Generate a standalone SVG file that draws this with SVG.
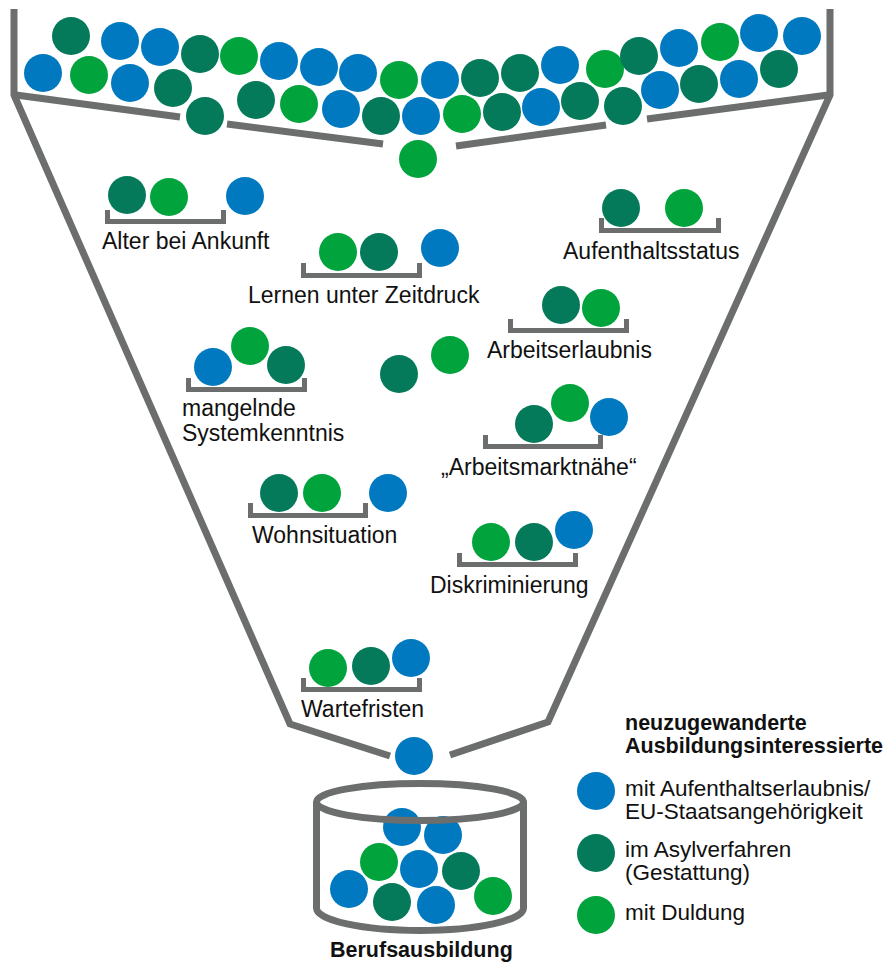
<svg xmlns="http://www.w3.org/2000/svg" width="886" height="968" viewBox="0 0 886 968">
<style>
.b{fill:#0079C1}.d{fill:#047A5A}.g{fill:#00A33C}
.ln{fill:none;stroke:#6B6E6D;stroke-width:7;stroke-linejoin:miter}
.br{fill:none;stroke:#6B6E6D;stroke-width:5}
.t{font-family:"Liberation Sans",Arial,sans-serif;font-size:23px;fill:#111}
.tl{font-family:"Liberation Sans",Arial,sans-serif;font-size:22.5px;fill:#111}
.tb{font-family:"Liberation Sans",Arial,sans-serif;font-size:21.5px;font-weight:bold;fill:#111}
</style>
<rect width="886" height="968" fill="#fff"/>
<g id="funnel">
<path class="ln" d="M14,9 V95 L290,724 L390,756"/>
<path class="ln" d="M830,9 V95 L548,722 L450,755"/>
<path class="ln" d="M16,95 L180,117"/>
<path class="ln" d="M227,124 L383,144"/>
<path class="ln" d="M456,146 L606,125"/>
<path class="ln" d="M647,119 L828,95"/>
</g>
<g id="pool">
<circle class="d" cx="71" cy="36" r="19"/>
<circle class="b" cx="120" cy="41" r="19"/>
<circle class="b" cx="160" cy="47" r="19"/>
<circle class="d" cx="200" cy="54" r="19"/>
<circle class="g" cx="239" cy="56" r="19"/>
<circle class="b" cx="279" cy="61" r="19"/>
<circle class="b" cx="319" cy="67" r="19"/>
<circle class="b" cx="358" cy="73" r="19"/>
<circle class="g" cx="399" cy="80" r="19"/>
<circle class="b" cx="440" cy="80" r="19"/>
<circle class="d" cx="480" cy="78" r="19"/>
<circle class="d" cx="520" cy="73" r="19"/>
<circle class="b" cx="560" cy="65" r="19"/>
<circle class="g" cx="605" cy="69" r="19"/>
<circle class="d" cx="639" cy="56" r="19"/>
<circle class="b" cx="679" cy="48" r="19"/>
<circle class="g" cx="720" cy="42" r="19"/>
<circle class="b" cx="759" cy="33" r="19"/>
<circle class="b" cx="802" cy="36" r="19"/>
<circle class="b" cx="43" cy="73" r="19"/>
<circle class="g" cx="89" cy="75" r="19"/>
<circle class="b" cx="130" cy="83" r="19"/>
<circle class="d" cx="173" cy="88" r="19"/>
<circle class="d" cx="205" cy="116" r="19"/>
<circle class="d" cx="256" cy="100" r="19"/>
<circle class="g" cx="299" cy="104" r="19"/>
<circle class="b" cx="341" cy="109" r="19"/>
<circle class="d" cx="381" cy="116" r="19"/>
<circle class="b" cx="421" cy="116" r="19"/>
<circle class="g" cx="462" cy="114" r="19"/>
<circle class="d" cx="502" cy="112" r="19"/>
<circle class="b" cx="541" cy="107" r="19"/>
<circle class="d" cx="580" cy="101" r="19"/>
<circle class="d" cx="623" cy="106" r="19"/>
<circle class="b" cx="660" cy="90" r="19"/>
<circle class="d" cx="699" cy="84" r="19"/>
<circle class="b" cx="739" cy="79" r="19"/>
<circle class="d" cx="779" cy="69" r="19"/>
<circle class="g" cx="418" cy="159" r="19"/>
</g>
<g id="alter">
<circle class="d" cx="127" cy="195" r="19"/>
<circle class="g" cx="169" cy="197" r="19"/>
<circle class="b" cx="245" cy="196" r="19"/>
<path class="br" d="M107.5,210 V221.5 H223.5 V210"/>
<text class="t" x="102" y="249">Alter bei Ankunft</text>
</g>
<g id="lernen">
<circle class="g" cx="338" cy="252" r="19"/>
<circle class="d" cx="379" cy="252" r="19"/>
<circle class="b" cx="440" cy="248" r="19"/>
<path class="br" d="M303.5,263 V275.5 H419.5 V263"/>
<text class="t" x="248" y="303">Lernen unter Zeitdruck</text>
</g>
<g id="system">
<circle class="b" cx="213" cy="367" r="19"/>
<circle class="g" cx="250" cy="346" r="19"/>
<circle class="d" cx="286" cy="365" r="19"/>
<path class="br" d="M188.5,378 V389.5 H304.5 V378"/>
<text class="t" x="182" y="416">mangelnde</text>
<text class="t" x="182" y="441">Systemkenntnis</text>
</g>
<g id="loose">
<circle class="d" cx="399" cy="374" r="19"/>
<circle class="g" cx="450" cy="355" r="19"/>
</g>
<g id="status">
<circle class="d" cx="621" cy="208" r="19"/>
<circle class="g" cx="684" cy="208" r="19"/>
<path class="br" d="M601.5,218 V230.5 H718.5 V218"/>
<text class="t" x="563" y="259">Aufenthaltsstatus</text>
</g>
<g id="arbeitserlaubnis">
<circle class="d" cx="561" cy="305" r="19"/>
<circle class="g" cx="601" cy="308" r="19"/>
<path class="br" d="M510.5,319 V330.5 H626.5 V319"/>
<text class="t" x="487" y="358">Arbeitserlaubnis</text>
</g>
<g id="marktnaehe">
<circle class="d" cx="534" cy="424" r="19"/>
<circle class="g" cx="570" cy="403" r="19"/>
<circle class="b" cx="609" cy="417" r="19"/>
<path class="br" d="M485.5,435 V446.5 H600.5 V435"/>
<text class="t" x="441" y="475">„Arbeitsmarktnähe“</text>
</g>
<g id="wohnen">
<circle class="d" cx="279" cy="493" r="19"/>
<circle class="g" cx="322" cy="493" r="19"/>
<circle class="b" cx="388" cy="493" r="19"/>
<path class="br" d="M250.5,503 V515.5 H365.5 V503"/>
<text class="t" x="252" y="543">Wohnsituation</text>
</g>
<g id="diskriminierung">
<circle class="g" cx="491" cy="542" r="19"/>
<circle class="d" cx="534" cy="542" r="19"/>
<circle class="b" cx="574" cy="530" r="19"/>
<path class="br" d="M459.5,553 V564.5 H575.5 V553"/>
<text class="t" x="430" y="593">Diskriminierung</text>
</g>
<g id="wartefristen">
<circle class="g" cx="328" cy="668" r="19"/>
<circle class="d" cx="371" cy="666" r="19"/>
<circle class="b" cx="411" cy="658" r="19"/>
<path class="br" d="M303.5,678 V689.5 H419.5 V678"/>
<text class="t" x="301" y="717">Wartefristen</text>
</g>
<g id="falling">
<circle class="b" cx="414" cy="756" r="19"/>
</g>
<g id="ausbildung">
<circle class="b" cx="402" cy="827" r="19"/>
<circle class="b" cx="443" cy="835" r="19"/>
<circle class="g" cx="379" cy="862" r="19"/>
<circle class="b" cx="419" cy="869" r="19"/>
<circle class="d" cx="461" cy="871" r="19"/>
<circle class="b" cx="349" cy="889" r="19"/>
<circle class="d" cx="392" cy="902" r="19"/>
<circle class="b" cx="436" cy="905" r="19"/>
<circle class="g" cx="493" cy="896" r="19"/>
<path class="ln" d="M316.5,802 V908 A103.5,22.5 0 0 0 523.5,908 V802"/>
<ellipse class="ln" cx="420" cy="802" rx="103.5" ry="18.5"/>
<text class="tb" x="330" y="957">Berufsausbildung</text>
</g>
<g id="legend">
<text class="tb" x="625" y="730">neuzugewanderte</text>
<text class="tb" x="625" y="753">Ausbildungsinteressierte</text>
<circle class="b" cx="596" cy="791" r="19"/>
<text class="tl" x="625" y="796">mit Aufenthaltserlaubnis/</text>
<text class="tl" x="625" y="819">EU-Staatsangehörigkeit</text>
<circle class="d" cx="596" cy="853" r="19"/>
<text class="tl" x="625" y="857">im Asylverfahren</text>
<text class="tl" x="625" y="880">(Gestattung)</text>
<circle class="g" cx="596" cy="915" r="19"/>
<text class="tl" x="625" y="920">mit Duldung</text>
</g>
</svg>
